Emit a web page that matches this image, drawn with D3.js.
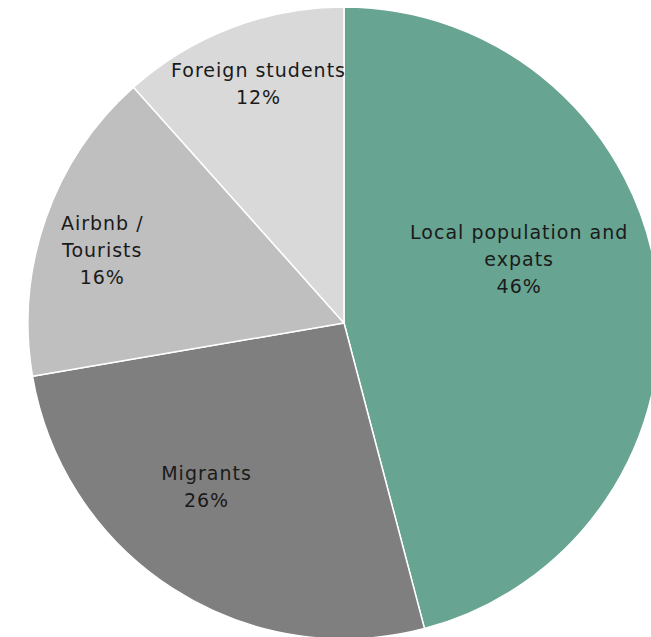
<!DOCTYPE html>
<html><head><meta charset="utf-8">
<script src="https://cdn.jsdelivr.net/npm/d3@7"></script>
<style>html,body{margin:0;padding:0;background:#fff;overflow:hidden}</style>
</head><body>
<svg id="chart" width="651" height="637"></svg>
<script>
const categories = ["Local population and expats", "Migrants", "Airbnb / Tourists", "Foreign students"];
const values = [45.9, 26.4, 16.1, 11.6];
const labelLines = [["Local population and", "expats"], ["Migrants"], ["Airbnb /", "Tourists"], ["Foreign students"]];
const colors = ["#67a491", "#7f7f7f", "#bfbfbf", "#d9d9d9"];
// label placement (angle offset in degrees, distance from centre)
const labelLayout = [[-12.7, 186], [7.4, 214], [-2.5, 253], [1.1, 254]];

const svg = d3.select("#chart");
const cx = 344, cy = 323, r = 316;
const g = svg.append("g").attr("transform", `translate(${cx},${cy})`);
const total = d3.sum(values);
const data = categories.map((c, i) => ({name: c, value: values[i], i}));
const pie = d3.pie().value(d => d.value).sort(null);
const arcs = pie(data);
const arc = d3.arc().innerRadius(0).outerRadius(r);

g.selectAll("path").data(arcs).join("path")
  .attr("d", arc)
  .attr("fill", d => colors[d.data.i])
  .attr("stroke", "#fff").attr("stroke-width", 1.5).attr("stroke-linejoin", "round");

const lh = 27, fs = 19;
arcs.forEach(a => {
  const [off, dist] = labelLayout[a.data.i];
  const ang = (a.startAngle + a.endAngle) / 2 + off * Math.PI / 180;
  const x = Math.sin(ang) * dist, y = -Math.cos(ang) * dist;
  const lines = labelLines[a.data.i].concat([Math.round(a.data.value / total * 100) + "%"]);
  const t = g.append("text").attr("text-anchor", "middle")
    .attr("font-family", "'DejaVu Sans', sans-serif").attr("font-size", fs)
    .attr("letter-spacing", 1)
    .attr("fill", "#1a1a1a");
  lines.forEach((l, k) => {
    t.append("tspan").attr("x", x + 0.5)
      .attr("y", y + (k - (lines.length - 1) / 2) * lh)
      .attr("dy", "0.35em").text(l);
  });
});
</script>
</body></html>
